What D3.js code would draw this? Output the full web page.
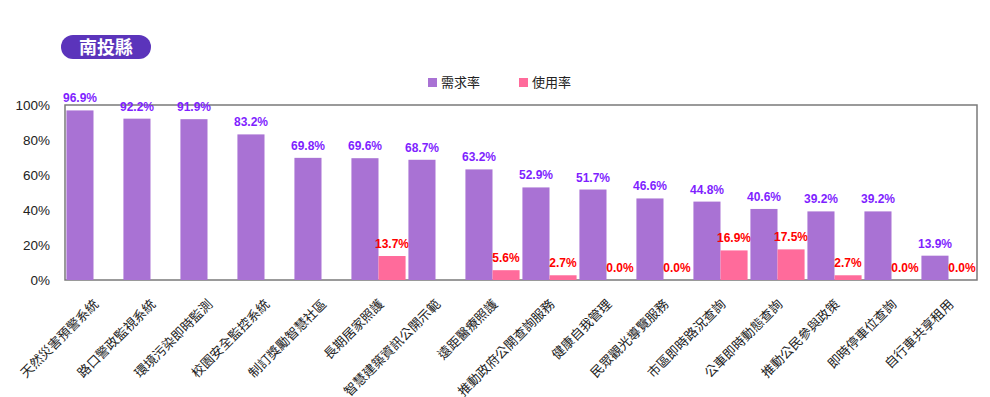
<!DOCTYPE html>
<html>
<head>
<meta charset="utf-8">
<script src="https://cdn.jsdelivr.net/npm/d3@7"></script>
<style>
body { margin: 0; background: #fff; }
svg { display: block; font-family: Arial, "Liberation Sans", "Noto Sans CJK TC", sans-serif; }
</style>
</head>
<body>
<script>
var categories = ['天然災害預警系統', '路口警政監視系統', '環境污染即時監測', '校園安全監控系統', '制訂獎勵智慧社區', '長期居家照護', '智慧建築資訊公開示範', '遠距醫療照護', '推動政府公開查詢服務', '健康自我管理', '民眾觀光導覽服務', '市區即時路況查詢', '公車即時動態查詢', '推動公民參與政策', '即時停車位查詢', '自行車共享租用']
var demand = [96.9, 92.2, 91.9, 83.2, 69.8, 69.6, 68.7, 63.2, 52.9, 51.7, 46.6, 44.8, 40.6, 39.2, 39.2, 13.9]
var usage = [null, null, null, null, null, 13.7, null, 5.6, 2.7, 0.0, 0.0, 16.9, 17.5, 2.7, 0.0, 0.0]
var seriesNames = ['需求率', '使用率']
var yTicks = [0, 20, 40, 60, 80, 100]
var title = '南投縣'

var width = 990
var height = 397
var margin = { left: 65, top: 105, right: 13, bottom: 117 }
var innerWidth = width - margin.left - margin.right
var innerHeight = height - margin.top - margin.bottom
var colors = ['#a972d4', '#ff6b9b']
var labelColors = ['#7f1fff', '#ff0000']

var svg = d3.select('body').append('svg').attr('width', width).attr('height', height)

// title badge
svg.append('rect').attr('x', 61).attr('y', 35).attr('width', 90).attr('height', 24).attr('rx', 12).attr('fill', '#5b34bb')
svg.append('text').attr('x', 106).attr('y', 47.5).attr('dy', '0.35em').attr('text-anchor', 'middle')
    .attr('fill', '#fff').attr('font-size', 18).attr('font-weight', 'bold')
    .style('font-family', '"Noto Sans CJK TC", sans-serif').text(title)

// legend
var legend = svg.append('g').selectAll('g').data(seriesNames).enter().append('g')
    .attr('transform', (d, i) => `translate(${428 + i * 91},78)`)
legend.append('rect').attr('width', 9).attr('height', 9).attr('fill', (d, i) => colors[i])
legend.append('text').attr('x', 13).attr('y', 4.5).attr('dy', '0.35em').attr('font-size', 13)
    .style('font-family', '"Noto Sans CJK TC", sans-serif').attr('fill', '#222').text(d => d)

var g = svg.append('g').attr('transform', `translate(${margin.left},${margin.top})`)

var xScale = d3.scaleBand().domain(categories).range([0, innerWidth]).paddingInner(0.05).paddingOuter(0.025)
var xInner = d3.scaleBand().domain([0, 1]).range([0, xScale.bandwidth()])
var yScale = d3.scaleLinear().domain([0, 100]).range([innerHeight, 0])

// frame
g.append('rect').attr('width', innerWidth).attr('height', innerHeight).attr('fill', 'none')
    .attr('stroke', '#7a7a7a').attr('stroke-width', 1.5)

var yAxis = d3.axisLeft(yScale).tickValues(yTicks).tickSize(0).tickPadding(15).tickFormat(d => d + '%')
var yg = g.append('g').call(yAxis)
yg.select('.domain').remove()
yg.selectAll('text').attr('fill', '#222').style('font-family', 'Arial, "Liberation Sans", sans-serif').attr('font-size', 13.5)

var xAxis = d3.axisBottom(xScale).tickSize(0)
var xg = g.append('g').attr('transform', `translate(0,${innerHeight})`).call(xAxis)
xg.select('.domain').remove()
xg.selectAll('text').attr('font-size', 13).attr('fill', '#222')
    .style('font-family', '"Noto Sans CJK TC", sans-serif')
    .attr('text-anchor', 'end').attr('x', 0).attr('y', 0).attr('dy', 0)
    .attr('transform', 'translate(6,25) rotate(-45)')

var rows = categories.map((c, i) => ({ category: c, values: [demand[i], usage[i]] }))

var groups = g.selectAll('.grp').data(rows).enter().append('g').attr('class', 'grp')
    .attr('transform', d => `translate(${xScale(d.category)},0)`)

groups.selectAll('rect').data(d => d.values.map((v, k) => ({ k: k, v: v })).filter(e => e.v !== null)).enter().append('rect')
    .attr('x', e => xInner(e.k)).attr('width', xInner.bandwidth())
    .attr('y', e => yScale(e.v)).attr('height', e => innerHeight - yScale(e.v))
    .attr('fill', e => colors[e.k])

groups.selectAll('text').data(d => d.values.map((v, k) => ({ k: k, v: v })).filter(e => e.v !== null)).enter().append('text')
    .attr('x', e => xInner(e.k) + xInner.bandwidth() / 2).attr('y', e => yScale(e.v) - 8)
    .attr('text-anchor', 'middle').attr('font-size', 12).attr('font-weight', 'bold')
    .attr('fill', e => labelColors[e.k]).text(e => e.v.toFixed(1) + '%')
</script>
</body>
</html>
